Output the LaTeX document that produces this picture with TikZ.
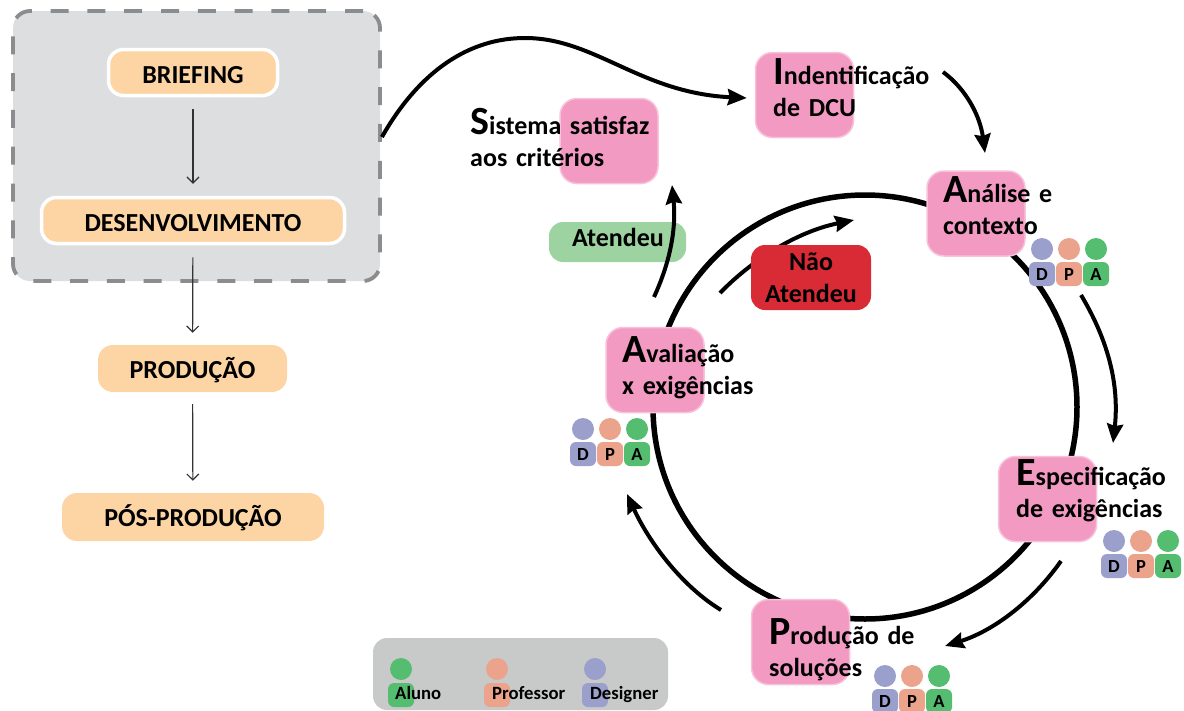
\documentclass[tikz,border=0pt]{standalone}
\usepackage{fontspec}
\setmainfont{Carlito}[BoldFont={Carlito Bold}]
\usetikzlibrary{arrows.meta}
\definecolor{peach}{HTML}{FDD5A5}
\definecolor{pinkbox}{HTML}{F29AC2}
\definecolor{grayfill}{HTML}{DCDEE0}
\definecolor{graydash}{HTML}{8A8C8E}
\definecolor{legendgray}{HTML}{C8CACA}
\definecolor{greenbox}{HTML}{9DD3A0}
\definecolor{redbox}{HTML}{D92B35}
\definecolor{pblue}{HTML}{9A9FCB}
\definecolor{ppeach}{HTML}{EBA38C}
\definecolor{pgreen}{HTML}{55BD70}
\newcommand{\capl}[1]{{\fontsize{40}{40}\selectfont #1}}
\newcommand{\lowered}[2]{\raisebox{-#1pt}[0pt][0pt]{#2}}
\tikzset{
  x=1pt,y=-1pt,
  every node/.style={font=\bfseries\fontsize{26}{32}\selectfont,inner sep=0pt,text=black},
  stageitem/.style={draw=white,line width=3.5pt,fill=peach,rounded corners=15pt,minimum height=46pt},
  plainitem/.style={fill=peach,rounded corners=15pt,minimum height=47pt},
  pinkitem/.style={fill=pinkbox,draw=pinkbox!60,line width=1.5pt,rounded corners=17pt,minimum width=98pt,minimum height=85pt},
  caption/.style={anchor=base west,align=left,text width=240pt},
  flowarrow/.style={draw=black!80,line width=1.2pt,-{Straight Barb[length=6pt,width=12pt]},shorten >=12pt,shorten <=12pt},
  cyclearrow/.style={draw=black,line width=4pt,-{Stealth[length=19pt,width=16pt,inset=2pt]}},
  head/.style={circle,minimum size=22pt},
  torso/.style={rounded corners=6pt,minimum width=26pt,minimum height=24pt,font=\bfseries\fontsize{18.5}{18.5}\selectfont},
  legendtext/.style={anchor=base west,font=\bfseries\fontsize{18.7}{18.7}\selectfont},
  team/.pic={
    \node[head,fill=pblue] (-hd) at (0,0) {};
    \node[head,fill=ppeach] (-hp) at (27,0) {};
    \node[head,fill=pgreen] (-ha) at (54,0) {};
    \node[torso,fill=pblue] (-d) at (0,25) {D};
    \node[torso,fill=ppeach] (-p) at (27,25) {P};
    \node[torso,fill=pgreen] (-a) at (54,25) {A};
  }
}
\begin{document}
\begin{tikzpicture}
\useasboundingbox (0,0) rectangle (1184,710);
% left column
\node[draw=graydash,fill=grayfill,line width=3.8pt,dash pattern=on 18pt off 18.8pt,rounded corners=17pt,minimum width=367pt,minimum height=270pt] (scope) at (196.5,146) {};
\node[stageitem,minimum width=169pt] (briefing) at (193,72.5) {\lowered{10.5}{BRIEFING}};
\node[stageitem,minimum width=303pt] (desenv) at (193,220.5) {\lowered{10.5}{DESENVOLVIMENTO}};
\node[plainitem,minimum width=189pt] (producao) at (192.5,368.5) {\lowered{9.5}{PRODUÇÃO}};
\node[plainitem,minimum width=262pt,minimum height=48pt] (pos) at (193,517) {\lowered{9}{PÓS-PRODUÇÃO}};
\draw[flowarrow] (briefing) -- (desenv);
\draw[flowarrow] (desenv) -- (producao);
\draw[flowarrow] (producao) -- (pos);
% ring
\node[circle,draw=black,line width=5.5pt,minimum size=424pt] (ring) at (865,407) {};
% free ends of the cycle arrows
\coordinate (a1) at (943,72);
\coordinate (a2) at (985,153);
\coordinate (b1) at (1081,295);
\coordinate (b2) at (1113,443);
\coordinate (c1) at (1061,561);
\coordinate (c2) at (945,646);
\coordinate (d1) at (721,610);
\coordinate (d2) at (627,494);
\coordinate (e1) at (654,297);
\coordinate (e2) at (672,185);
\coordinate (f1) at (720,293);
\coordinate (f2) at (854,220);
% status boxes and pink steps
\node[fill=greenbox,rounded corners=14pt,minimum width=137pt,minimum height=40pt] (atendeu) at (617.5,242) {};
\node[anchor=base] (atendeut) at (618,246) {Atendeu};
\draw[cyclearrow] (f1) .. controls (750,262) and (795,232) .. (f2);
\node[fill=redbox,rounded corners=14pt,minimum width=120pt,minimum height=65pt,align=center] (natendeu) at (811,277.5) {Não\\Atendeu};
\node[pinkitem] (ident) at (804.5,95) {};
\node[pinkitem] (sistema) at (609,141) {};
\node[pinkitem] (analise) at (976,213.5) {};
\node[pinkitem] (espec) at (1047.5,499) {};
\node[pinkitem] (prod) at (800.5,642) {};
\node[pinkitem] (aval) at (655,370) {};
% connectors
\draw[cyclearrow] ([yshift=9pt]scope.east) .. controls (420,70) and (470,38) .. (525,38) .. controls (595,38) and (640,93) .. ([xshift=-8pt,yshift=-3pt]ident.west);
\draw[cyclearrow] (a1) .. controls (965,88) and (980,115) .. (a2);
\draw[cyclearrow] (b1) .. controls (1105,335) and (1120,380) .. (b2);
\draw[cyclearrow] (c1) .. controls (1030,605) and (990,632) .. (c2);
\draw[cyclearrow] (d1) .. controls (680,585) and (648,540) .. (d2);
\draw[cyclearrow] (e1) .. controls (672,258) and (676,225) .. (e2);
% captions
\node[caption] (t1) at (773,84) {\capl{I}ndentificação\\de DCU};
\node[caption] (t2) at (470,134) {\capl{S}istema satisfaz\\aos critérios};
\node[caption] (t3) at (943,202) {\capl{A}nálise e\\contexto};
\node[caption] (t4) at (1016,485) {\capl{E}specificação\\de exigências};
\node[caption] (t5) at (769,644) {\capl{P}rodução de\\soluções};
\node[caption] (t6) at (622,362) {\capl{A}valiação\\x exigências};
% teams
\pic (teama) at (1042,249) {team};
\pic (teame) at (1114,541) {team};
\pic (teamp) at (885,676) {team};
\pic (teamv) at (583,429) {team};
% legend
\node[fill=legendgray,rounded corners=14pt,minimum width=295pt,minimum height=72pt] (legend) at (520.5,674) {};
\node[head,fill=pgreen] (lh1) at (401,669) {};
\node[torso,fill=pgreen] (lb1) at (401,695) {};
\node[head,fill=ppeach] (lh2) at (497,669) {};
\node[torso,fill=ppeach] (lb2) at (497,695) {};
\node[head,fill=pblue] (lh3) at (595,669) {};
\node[torso,fill=pblue] (lb3) at (595,695) {};
\node[legendtext] (l1) at (395,699) {Aluno};
\node[legendtext] (l2) at (492,699) {Professor};
\node[legendtext] (l3) at (590,699) {Designer};
\end{tikzpicture}
\end{document}
